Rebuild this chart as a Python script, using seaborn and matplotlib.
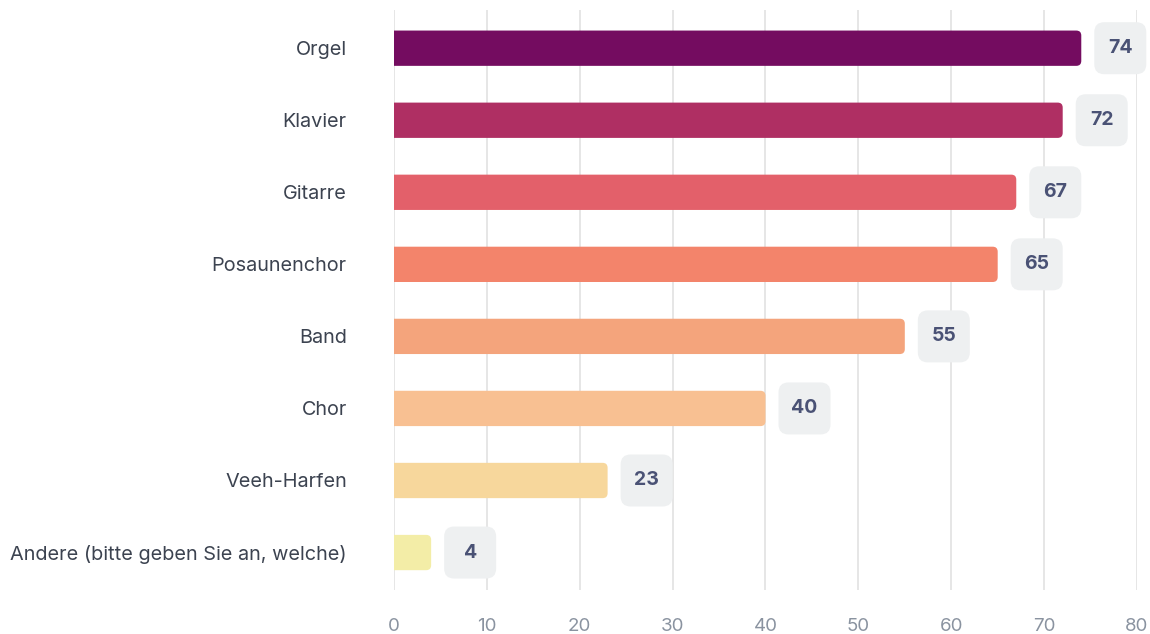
import pandas as pd
import seaborn as sns
import matplotlib.pyplot as plt
from matplotlib.patches import FancyBboxPatch

# data
categories = ["Orgel", "Klavier", "Gitarre", "Posaunenchor", "Band", "Chor",
              "Veeh-Harfen", "Andere (bitte geben Sie an, welche)"]
values = [74, 72, 67, 65, 55, 40, 23, 4]
bar_colors = ["#740c60", "#af2f63", "#e3606a", "#f3846b", "#f4a47c",
              "#f8c092", "#f7d79c", "#f3eda7"]
x_ticks = [0, 10, 20, 30, 40, 50, 60, 70, 80]

df = pd.DataFrame({"category": categories, "value": values})

sns.set_theme(style="white")
plt.rcParams["font.family"] = ["Inter", "DejaVu Sans"]

fig = plt.figure(figsize=(11.5, 6.34), dpi=100)
ax = fig.add_axes([0.3426, 0.0694, 0.6461, 0.9148])

sns.barplot(data=df, x="value", y="category", hue="category",
            palette=bar_colors, saturation=1, legend=False, width=0.49, ax=ax)

ax.set_xlim(0, 80)
ax.set_ylim(7.52, -0.53)

# px -> data units
px_x = 80 / (0.6461 * 1150)
px_y = 8.05 / (0.9148 * 634)
aspect = px_y / px_x

# rounded right ends on bars (left side is clipped by the axes)
r = 5 * px_x
for p in list(ax.patches):
    x, y, w, h = p.get_x(), p.get_y(), p.get_width(), p.get_height()
    fc = p.get_facecolor()
    p.remove()
    ax.add_patch(FancyBboxPatch((x - r, y), w + r, h,
                                boxstyle=f"round,pad=0,rounding_size={r}",
                                mutation_aspect=aspect, fc=fc, ec="none",
                                zorder=3))

# value badges
bw, bh = 52 * px_x, 52 * px_y
for i, v in enumerate(values):
    cx = v + 4.2
    ax.add_patch(FancyBboxPatch((cx - bw / 2, i - bh / 2), bw, bh,
                                boxstyle=f"round,pad=0,rounding_size={10 * px_x}",
                                mutation_aspect=aspect, fc="#eef0f1", ec="none",
                                zorder=4, clip_on=False))
    ax.text(cx, i, str(v), ha="center", va="center", fontsize=14,
            fontweight="bold", color="#4a5275", zorder=5)

ax.set_xticks(x_ticks)
ax.xaxis.grid(True, color="#e2e2e2", linewidth=1.2)
ax.set_axisbelow(True)
sns.despine(ax=ax, left=True, bottom=True)
ax.tick_params(axis="x", length=0, pad=20, labelsize=13.5, labelcolor="#8a93a0")
ax.tick_params(axis="y", length=0, pad=34, labelsize=14.3, labelcolor="#3c4350")
ax.set_xlabel("")
ax.set_ylabel("")

fig.savefig("out.png", dpi=100, facecolor="white")
